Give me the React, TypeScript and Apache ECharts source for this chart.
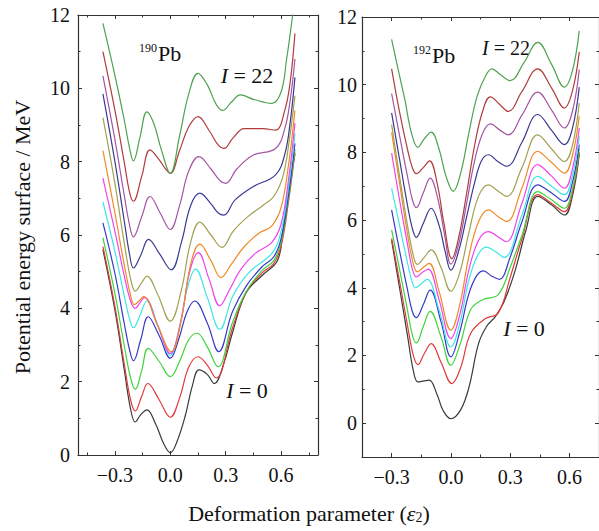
import React, { useEffect, useRef } from 'react';
import * as echarts from 'echarts';

// ---------- data ----------
const SPINS = [0, 2, 4, 6, 8, 10, 12, 14, 16, 18, 20, 22];
const COLORS = ['#3a3a3a', '#e23a3a', '#3ed43e', '#3838c8', '#3fe6e6', '#f043f0', '#f08a26', '#a3a050', '#3a3a92', '#a455a4', '#b03c3c', '#4fa24f'];

const X_MAJOR = [-0.3, 0, 0.3, 0.6];
const X_MINOR = [-0.45, -0.15, 0.15, 0.45, 0.75];
const Y_MAJOR = [0, 2, 4, 6, 8, 10, 12];
const Y_MINOR = [1, 3, 5, 7, 9, 11];
const LEFT_X_RANGE = [-0.5, 0.8];
const RIGHT_X_RANGE = [-0.45, 0.75];
const LEFT_Y_RANGE = [0, 12];
const RIGHT_Y_RANGE = [-1, 12];

// 190Pb, I = 0 ... 22
const PB190_I0 = [[-0.365, 5.6], [-0.3, 3.95], [-0.25, 2.35], [-0.215, 1.25], [-0.19, 0.9], [-0.16, 1.1], [-0.127, 1.23], [-0.08, 0.85], [-0.035, 0.3], [0, 0.06], [0.035, 0.35], [0.08, 1.05], [0.12, 1.9], [0.155, 2.32], [0.2, 2.2], [0.238, 1.95], [0.29, 2.5], [0.336, 3.32], [0.409, 4.41], [0.5, 4.91], [0.58, 5.3], [0.609, 6.05], [0.631, 6.95], [0.675, 8.2]];
const PB190_I2 = [[-0.365, 5.68], [-0.3, 4.05], [-0.25, 2.5], [-0.215, 1.5], [-0.19, 1.2], [-0.155, 1.6], [-0.122, 1.95], [-0.06, 1.5], [0, 1.03], [0.05, 1.55], [0.1, 2.4], [0.15, 2.68], [0.2, 2.45], [0.248, 2.1], [0.336, 3.45], [0.41, 4.43], [0.5, 4.98], [0.56, 5.22], [0.6, 5.7], [0.64, 6.9], [0.675, 8.25]];
const PB190_I4 = [[-0.365, 5.93], [-0.3, 4.4], [-0.25, 3.0], [-0.215, 2.1], [-0.19, 1.79], [-0.155, 2.3], [-0.12, 2.91], [-0.06, 2.55], [0, 2.14], [0.05, 2.55], [0.1, 3.15], [0.145, 3.32], [0.2, 2.95], [0.258, 2.41], [0.336, 3.6], [0.41, 4.45], [0.5, 5.05], [0.56, 5.3], [0.6, 5.8], [0.64, 7.0], [0.675, 8.35]];
const PB190_I6 = [[-0.365, 6.33], [-0.3, 4.95], [-0.25, 3.6], [-0.22, 2.85], [-0.2, 2.57], [-0.16, 3.15], [-0.12, 3.77], [-0.06, 3.25], [0, 2.64], [0.045, 3.15], [0.09, 3.9], [0.132, 4.2], [0.2, 3.6], [0.262, 2.82], [0.336, 3.9], [0.41, 4.6], [0.5, 5.15], [0.56, 5.4], [0.6, 5.9], [0.64, 7.1], [0.675, 8.5]];
const PB190_I8 = [[-0.365, 6.9], [-0.3, 5.55], [-0.25, 4.35], [-0.22, 3.7], [-0.2, 3.47], [-0.165, 3.8], [-0.127, 4.2], [-0.065, 3.5], [0, 2.72], [0.05, 3.5], [0.095, 4.6], [0.136, 5.07], [0.2, 4.3], [0.268, 3.43], [0.34, 4.35], [0.43, 5.0], [0.55, 5.5], [0.6, 6.1], [0.64, 7.3], [0.675, 8.77]];
const PB190_I10 = [[-0.365, 7.55], [-0.3, 6.1], [-0.25, 4.9], [-0.215, 4.2], [-0.19, 4.0], [-0.165, 4.15], [-0.14, 4.3], [-0.07, 3.55], [0, 2.77], [0.055, 3.6], [0.105, 5.0], [0.152, 5.52], [0.21, 4.8], [0.268, 4.07], [0.32, 4.5], [0.38, 5.05], [0.46, 5.5], [0.55, 5.8], [0.6, 6.3], [0.64, 7.5], [0.675, 9.05]];
const PB190_I12 = [[-0.365, 8.3], [-0.3, 6.6], [-0.25, 5.2], [-0.215, 4.35], [-0.195, 4.1], [-0.17, 4.2], [-0.145, 4.32], [-0.07, 3.55], [0.005, 2.82], [0.06, 3.7], [0.11, 5.2], [0.16, 5.75], [0.22, 5.3], [0.275, 4.84], [0.33, 5.2], [0.4, 5.68], [0.48, 6.05], [0.55, 6.25], [0.6, 6.75], [0.64, 7.9], [0.675, 9.4]];
const PB190_I14 = [[-0.365, 9.2], [-0.3, 7.4], [-0.25, 5.8], [-0.215, 4.8], [-0.19, 4.47], [-0.155, 4.7], [-0.127, 4.88], [-0.07, 4.4], [0, 3.65], [0.06, 4.5], [0.11, 5.8], [0.16, 6.35], [0.22, 6.0], [0.28, 5.66], [0.34, 6.1], [0.42, 6.5], [0.5, 6.8], [0.56, 7.05], [0.61, 7.6], [0.645, 8.6], [0.675, 9.8]];
const PB190_I16 = [[-0.365, 9.85], [-0.3, 8.0], [-0.25, 6.4], [-0.22, 5.45], [-0.2, 5.1], [-0.16, 5.45], [-0.118, 5.88], [-0.06, 5.5], [0.005, 5.05], [0.06, 5.8], [0.11, 6.8], [0.16, 7.14], [0.22, 6.85], [0.26, 6.6], [0.29, 6.54], [0.35, 6.95], [0.45, 7.32], [0.57, 7.64], [0.62, 8.2], [0.65, 9.1], [0.675, 10.3]];
const PB190_I18 = [[-0.365, 10.34], [-0.3, 8.6], [-0.25, 7.1], [-0.22, 6.25], [-0.2, 5.95], [-0.155, 6.5], [-0.11, 7.05], [-0.055, 6.6], [0, 6.15], [0.05, 6.8], [0.1, 7.75], [0.155, 8.14], [0.22, 7.8], [0.27, 7.48], [0.3, 7.41], [0.36, 7.8], [0.45, 8.18], [0.57, 8.36], [0.62, 8.9], [0.65, 9.7], [0.675, 10.8]];
const PB190_I20 = [[-0.365, 11.0], [-0.3, 9.4], [-0.25, 8.0], [-0.22, 7.15], [-0.2, 6.92], [-0.155, 7.6], [-0.11, 8.32], [-0.06, 8.05], [-0.025, 7.8], [0, 7.68], [0.05, 8.3], [0.1, 8.95], [0.15, 9.23], [0.21, 8.85], [0.26, 8.45], [0.29, 8.36], [0.34, 8.65], [0.4, 8.9], [0.5, 8.9], [0.57, 8.86], [0.62, 9.4], [0.65, 10.2], [0.675, 11.5]];
const PB190_I22 = [[-0.365, 11.77], [-0.3, 10.35], [-0.25, 9.15], [-0.22, 8.35], [-0.2, 8.02], [-0.165, 8.65], [-0.127, 9.36], [-0.09, 9.05], [-0.05, 8.35], [0, 7.68], [0.05, 8.7], [0.1, 9.85], [0.15, 10.41], [0.2, 10.1], [0.25, 9.55], [0.285, 9.4], [0.33, 9.62], [0.38, 9.82], [0.45, 9.7], [0.55, 9.59], [0.6, 9.9], [0.63, 10.8], [0.655, 11.7], [0.675, 12.5]];

// 192Pb, I = 0 ... 22
const PB192_I0 = [[-0.3, 5.4], [-0.26, 4.0], [-0.22, 2.6], [-0.19, 1.55], [-0.167, 1.22], [-0.135, 1.25], [-0.11, 1.27], [-0.07, 0.85], [-0.04, 0.38], [0, 0.13], [0.05, 0.4], [0.092, 1.07], [0.14, 2.35], [0.18, 2.85], [0.225, 3.15], [0.27, 3.6], [0.325, 4.5], [0.38, 5.7], [0.44, 6.7], [0.51, 6.45], [0.575, 6.15], [0.615, 6.7], [0.65, 7.95]];
const PB192_I2 = [[-0.3, 5.46], [-0.26, 4.2], [-0.22, 2.9], [-0.19, 2.0], [-0.167, 1.73], [-0.135, 2.05], [-0.1, 2.35], [-0.05, 1.8], [0.005, 1.17], [0.05, 1.65], [0.1, 2.65], [0.175, 3.09], [0.24, 3.26], [0.3, 4.3], [0.36, 5.45], [0.44, 6.75], [0.51, 6.5], [0.575, 6.25], [0.615, 6.8], [0.65, 8.0]];
const PB192_I4 = [[-0.3, 5.71], [-0.26, 4.55], [-0.22, 3.35], [-0.195, 2.6], [-0.175, 2.37], [-0.14, 2.85], [-0.105, 3.3], [-0.05, 2.55], [0, 1.71], [0.045, 2.3], [0.1, 3.35], [0.158, 3.64], [0.24, 3.8], [0.3, 4.6], [0.36, 5.55], [0.44, 6.84], [0.51, 6.6], [0.575, 6.35], [0.615, 6.9], [0.65, 8.1]];
const PB192_I6 = [[-0.3, 6.3], [-0.26, 5.1], [-0.22, 3.95], [-0.195, 3.3], [-0.175, 3.12], [-0.14, 3.5], [-0.105, 3.93], [-0.05, 3.0], [0, 1.96], [0.045, 2.7], [0.09, 3.8], [0.13, 4.35], [0.165, 4.5], [0.205, 4.35], [0.245, 4.25], [0.3, 4.9], [0.36, 5.95], [0.44, 7.04], [0.51, 6.8], [0.575, 6.55], [0.615, 7.1], [0.65, 8.23]];
const PB192_I8 = [[-0.3, 6.94], [-0.26, 5.85], [-0.22, 4.75], [-0.195, 4.15], [-0.18, 4.0], [-0.15, 4.12], [-0.12, 4.25], [-0.06, 3.35], [0, 2.25], [0.045, 2.95], [0.09, 4.2], [0.135, 4.95], [0.18, 5.2], [0.23, 5.05], [0.27, 4.9], [0.36, 6.15], [0.44, 7.29], [0.51, 7.0], [0.575, 6.75], [0.615, 7.3], [0.65, 8.47]];
const PB192_I10 = [[-0.3, 7.98], [-0.26, 6.6], [-0.22, 5.3], [-0.195, 4.55], [-0.175, 4.32], [-0.145, 4.45], [-0.115, 4.55], [-0.06, 3.65], [0, 2.5], [0.045, 3.2], [0.09, 4.5], [0.14, 5.4], [0.19, 5.66], [0.24, 5.5], [0.28, 5.36], [0.36, 6.5], [0.44, 7.64], [0.51, 7.3], [0.575, 6.94], [0.615, 7.5], [0.65, 8.72]];
const PB192_I12 = [[-0.3, 8.59], [-0.26, 7.1], [-0.22, 5.6], [-0.19, 4.7], [-0.17, 4.47], [-0.14, 4.6], [-0.11, 4.72], [-0.06, 3.9], [0, 2.75], [0.045, 3.5], [0.09, 4.9], [0.14, 5.95], [0.19, 6.3], [0.24, 6.1], [0.283, 5.96], [0.36, 6.95], [0.44, 8.03], [0.51, 7.7], [0.575, 7.39], [0.615, 7.9], [0.65, 9.07]];
const PB192_I14 = [[-0.3, 8.82], [-0.26, 7.3], [-0.22, 5.85], [-0.19, 4.95], [-0.17, 4.69], [-0.135, 4.9], [-0.1, 5.12], [-0.05, 4.6], [0, 3.9], [0.045, 4.45], [0.09, 5.6], [0.14, 6.7], [0.19, 7.04], [0.24, 6.85], [0.283, 6.7], [0.36, 7.55], [0.44, 8.52], [0.51, 8.1], [0.575, 7.73], [0.615, 8.2], [0.65, 9.46]];
const PB192_I16 = [[-0.3, 9.17], [-0.26, 7.8], [-0.22, 6.45], [-0.195, 5.75], [-0.175, 5.49], [-0.14, 5.9], [-0.1, 6.35], [-0.06, 5.85], [-0.03, 5.1], [0, 4.52], [0.04, 5.1], [0.08, 6.1], [0.12, 7.1], [0.155, 7.75], [0.19, 7.93], [0.24, 7.72], [0.283, 7.59], [0.36, 8.3], [0.44, 9.12], [0.51, 8.65], [0.575, 8.23], [0.615, 8.7], [0.65, 9.93]];
const PB192_I18 = [[-0.3, 9.74], [-0.26, 8.5], [-0.22, 7.3], [-0.195, 6.6], [-0.175, 6.37], [-0.14, 6.8], [-0.105, 7.24], [-0.065, 6.6], [-0.03, 5.5], [0, 4.7], [0.04, 5.3], [0.08, 6.5], [0.12, 7.75], [0.16, 8.55], [0.2, 8.84], [0.25, 8.65], [0.29, 8.52], [0.36, 9.1], [0.44, 9.78], [0.51, 9.25], [0.575, 8.72], [0.615, 9.2], [0.65, 10.45]];
const PB192_I20 = [[-0.3, 10.47], [-0.26, 9.2], [-0.22, 8.1], [-0.195, 7.55], [-0.175, 7.37], [-0.14, 7.55], [-0.108, 7.75], [-0.07, 7.1], [-0.035, 5.9], [0.005, 4.86], [0.04, 5.5], [0.08, 6.8], [0.12, 8.2], [0.16, 9.2], [0.2, 9.64], [0.25, 9.4], [0.29, 9.21], [0.36, 9.8], [0.44, 10.47], [0.51, 9.9], [0.575, 9.31], [0.615, 9.8], [0.65, 10.97]];
const PB192_I22 = [[-0.3, 11.34], [-0.267, 10.45], [-0.233, 9.56], [-0.2, 8.58], [-0.167, 8.15], [-0.135, 8.4], [-0.1, 8.6], [-0.06, 8.1], [-0.025, 7.3], [0.012, 6.85], [0.05, 7.4], [0.092, 8.6], [0.133, 9.66], [0.175, 10.25], [0.208, 10.47], [0.25, 10.3], [0.3, 10.12], [0.37, 10.65], [0.44, 11.25], [0.51, 10.6], [0.575, 9.93], [0.615, 10.4], [0.65, 11.59]];

const PB190 = [PB190_I0, PB190_I2, PB190_I4, PB190_I6, PB190_I8, PB190_I10, PB190_I12, PB190_I14, PB190_I16, PB190_I18, PB190_I20, PB190_I22];
const PB192 = [PB192_I0, PB192_I2, PB192_I4, PB192_I6, PB192_I8, PB192_I10, PB192_I12, PB192_I14, PB192_I16, PB192_I18, PB192_I20, PB192_I22];

// ---------- chart ----------
const SERIF = "'Liberation Serif', 'Times New Roman', Times, serif";

const fmtX = (v: number) => (v < -1e-9 ? '\u2212' : '') + Math.abs(v).toFixed(1);

function axisSet(dim: 'x' | 'y', gridIndex: number, range: number[], major: number[], minor: number[], labelMargin: number) {
  const sides = dim === 'x' ? ['bottom', 'top'] : ['left', 'right'];
  const out: any[] = [];
  sides.forEach((pos, si) => {
    [true, false].forEach((isMajor) => {
      const vals = isMajor ? major : minor;
      out.push({
        type: 'value',
        gridIndex,
        position: pos,
        min: range[0],
        max: range[1],
        scale: true,
        splitLine: { show: false },
        axisLine: { show: isMajor, onZero: false, lineStyle: { color: '#333', width: 1.2 } },
        axisTick: {
          show: true,
          inside: true,
          length: isMajor ? 4 : 2.5,
          customValues: vals,
          lineStyle: { color: '#333', width: 1 },
        },
        axisLabel: {
          show: isMajor && si === 0,
          customValues: vals,
          margin: labelMargin,
          color: '#111',
          fontSize: 20,
          fontFamily: SERIF,
          formatter: dim === 'x' ? fmtX : (v: number) => String(v),
        },
      });
    });
  });
  return out;
}

export default function App() {
  const ref = useRef<HTMLDivElement>(null);
  useEffect(() => {
    document.body.style.margin = '0';
    if (!ref.current) return;
    const chart = echarts.init(ref.current, undefined, { renderer: 'svg' });

    const xAxis = [
      ...axisSet('x', 0, LEFT_X_RANGE, X_MAJOR, X_MINOR, 10),
      ...axisSet('x', 1, RIGHT_X_RANGE, X_MAJOR, X_MINOR, 10),
    ];
    const yAxis = [
      ...axisSet('y', 0, LEFT_Y_RANGE, Y_MAJOR, Y_MINOR, 8),
      ...axisSet('y', 1, RIGHT_Y_RANGE, Y_MAJOR, [-1, ...Y_MINOR], 5),
    ];

    const mk = (curves: number[][][], axisIndex: number, tag: string) =>
      curves.map((data, i) => ({
        type: 'line',
        name: `${tag} I=${SPINS[i]}`,
        xAxisIndex: axisIndex,
        yAxisIndex: axisIndex,
        data,
        smooth: 0.4,
        showSymbol: false,
        symbol: 'none',
        clip: true,
        silent: true,
        lineStyle: { color: COLORS[i], width: 1.2 },
        z: 2 + i,
      }));

    const txt = (x: number, y: number, text: string, size: number, extra: any = {}) => ({
      type: 'text',
      x,
      y,
      style: { text, fontSize: size, fontFamily: SERIF, fill: '#111', verticalAlign: 'middle', ...extra },
    });

    const rich = {
      i: { fontStyle: 'italic', fontSize: 22, fontFamily: SERIF, fill: '#111' },
      n: { fontSize: 22, fontFamily: SERIF, fill: '#111' },
      ir: { fontStyle: 'italic', fontSize: 20, fontFamily: SERIF, fill: '#111' },
      nr: { fontSize: 20, fontFamily: SERIF, fill: '#111' },
      sub: { fontSize: 14, fontFamily: SERIF, fill: '#111', verticalAlign: 'bottom', padding: [0, 0, 0, 0] },
    };

    chart.setOption({
      animation: false,
      backgroundColor: '#fff',
      grid: [
        { left: 78, top: 15, width: 240, height: 440, containLabel: false },
        { left: 362, top: 17, width: 240, height: 440, containLabel: false },
      ],
      xAxis,
      yAxis,
      series: [...mk(PB190, 0, '190Pb'), ...mk(PB192, 4, '192Pb')],
      graphic: [
        {
          type: 'text',
          x: 22,
          y: 237,
          rotation: Math.PI / 2,
          style: { text: 'Potential energy surface / MeV', fontSize: 22, fontFamily: SERIF, fill: '#111', align: 'center', verticalAlign: 'middle' },
        },
        {
          type: 'text',
          x: 309,
          y: 513,
          style: {
            text: '{n|Deformation parameter (}{i|\u03b5}{sub|2}{n|)}',
            rich,
            align: 'center',
            verticalAlign: 'middle',
          },
        },
        txt(139, 48, '190', 12),
        txt(158, 53, 'Pb', 22),
        txt(413, 50, '192', 12),
        txt(432, 55, 'Pb', 22),
        { type: 'text', x: 247, y: 75, style: { text: '{i|I}{n| = 22}', rich, align: 'center', verticalAlign: 'middle' } },
        { type: 'text', x: 247, y: 390, style: { text: '{i|I}{n| = 0}', rich, align: 'center', verticalAlign: 'middle' } },
        { type: 'text', x: 506, y: 48, style: { text: '{ir|I}{nr| = 22}', rich, align: 'center', verticalAlign: 'middle' } },
        { type: 'text', x: 524, y: 328, style: { text: '{i|I}{n| = 0}', rich, align: 'center', verticalAlign: 'middle' } },
      ],
    });
    return () => chart.dispose();
  }, []);
  return <div ref={ref} style={{ position: 'absolute', left: 0, top: 0, width: 599, height: 531 }} />;
}
